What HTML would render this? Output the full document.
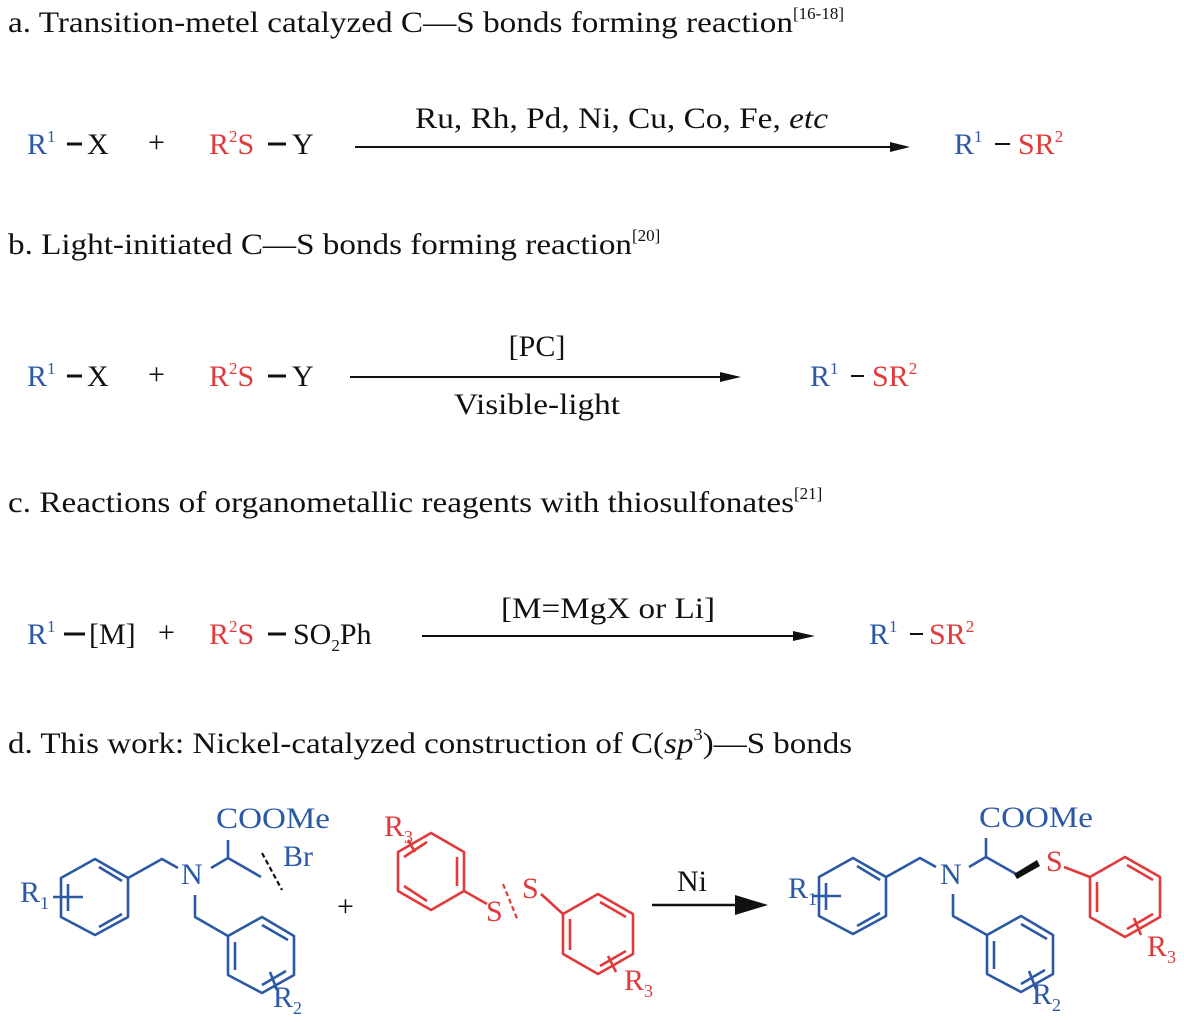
<!DOCTYPE html>
<html><head><meta charset="utf-8"><style>
html,body{margin:0;padding:0;background:#fff;width:1184px;height:1022px;overflow:hidden}
svg{display:block}
text{font-family:"Liberation Serif",serif}
</style></head><body>
<svg width="1184" height="1022" viewBox="0 0 1184 1022" xmlns="http://www.w3.org/2000/svg">
<g font-size="30" fill="#111">
<text x="8" y="32"><tspan textLength="785" lengthAdjust="spacingAndGlyphs">a. Transition-metel catalyzed C—S bonds forming reaction</tspan><tspan font-size="17" dy="-13">[16-18]</tspan></text>
<text x="8" y="254"><tspan textLength="624" lengthAdjust="spacingAndGlyphs">b. Light-initiated C—S bonds forming reaction</tspan><tspan font-size="17" dy="-13">[20]</tspan></text>
<text x="8" y="512"><tspan textLength="786" lengthAdjust="spacingAndGlyphs">c. Reactions of organometallic reagents with thiosulfonates</tspan><tspan font-size="17" dy="-13">[21]</tspan></text>
<text transform="translate(8,753) scale(1.1,1)" x="0" y="0">d. This work: Nickel-catalyzed construction of C(<tspan font-style="italic">sp</tspan><tspan font-size="17" dy="-13">3</tspan><tspan dy="13">)—S bonds</tspan></text>
</g>

<!-- row a -->
<g font-size="30">
<text x="27" y="154" fill="#2b59a5">R<tspan font-size="17" dy="-12">1</tspan></text>
<line x1="67" y1="144" x2="82" y2="144" stroke="#111" stroke-width="3"/>
<text x="87" y="154" fill="#111">X</text>
<text x="148" y="152" fill="#111">+</text>
<text x="209" y="154" fill="#e03a3a">R<tspan font-size="17" dy="-12">2</tspan><tspan dy="12">S</tspan></text>
<line x1="268" y1="144" x2="286" y2="144" stroke="#111" stroke-width="3"/>
<text x="292" y="154" fill="#111">Y</text>
<line x1="355" y1="147" x2="895" y2="147" stroke="#111" stroke-width="2"/>
<path d="M890,142 L910,147 L890,152 Z" fill="#111"/>
<text x="415" y="128" fill="#111" textLength="413" lengthAdjust="spacingAndGlyphs">Ru, Rh, Pd, Ni, Cu, Co, Fe, <tspan font-style="italic">etc</tspan></text>
<text x="954" y="154" fill="#2b59a5">R<tspan font-size="17" dy="-12">1</tspan></text>
<line x1="995" y1="144" x2="1010" y2="144" stroke="#111" stroke-width="2"/>
<text x="1018" y="154" fill="#e03a3a">SR<tspan font-size="17" dy="-12">2</tspan></text>
</g>

<!-- row b -->
<g font-size="30">
<text x="27" y="386" fill="#2b59a5">R<tspan font-size="17" dy="-12">1</tspan></text>
<line x1="67" y1="376" x2="82" y2="376" stroke="#111" stroke-width="3"/>
<text x="87" y="386" fill="#111">X</text>
<text x="148" y="384" fill="#111">+</text>
<text x="209" y="386" fill="#e03a3a">R<tspan font-size="17" dy="-12">2</tspan><tspan dy="12">S</tspan></text>
<line x1="268" y1="376" x2="286" y2="376" stroke="#111" stroke-width="3"/>
<text x="292" y="386" fill="#111">Y</text>
<line x1="350" y1="377" x2="725" y2="377" stroke="#111" stroke-width="2"/>
<path d="M720,372 L741,377 L720,382 Z" fill="#111"/>
<text x="537" y="356" fill="#111" text-anchor="middle">[PC]</text>
<text x="537" y="414" fill="#111" text-anchor="middle" textLength="166" lengthAdjust="spacingAndGlyphs">Visible-light</text>
<text x="810" y="386" fill="#2b59a5">R<tspan font-size="17" dy="-12">1</tspan></text>
<line x1="851" y1="376" x2="864" y2="376" stroke="#111" stroke-width="2"/>
<text x="872" y="386" fill="#e03a3a">SR<tspan font-size="17" dy="-12">2</tspan></text>
</g>

<!-- row c -->
<g font-size="30">
<text x="27" y="644" fill="#2b59a5">R<tspan font-size="17" dy="-12">1</tspan></text>
<line x1="64" y1="634" x2="85" y2="634" stroke="#111" stroke-width="3"/>
<text x="89" y="644" fill="#111">[M]</text>
<text x="158" y="642" fill="#111">+</text>
<text x="209" y="644" fill="#e03a3a">R<tspan font-size="17" dy="-12">2</tspan><tspan dy="12">S</tspan></text>
<line x1="268" y1="634" x2="286" y2="634" stroke="#111" stroke-width="3"/>
<text x="293" y="644" fill="#111">SO<tspan font-size="17" dy="7">2</tspan><tspan dy="-7">Ph</tspan></text>
<line x1="422" y1="636" x2="798" y2="636" stroke="#111" stroke-width="2"/>
<path d="M793,631 L815,636 L793,641 Z" fill="#111"/>
<text x="608" y="618" fill="#111" text-anchor="middle" textLength="214" lengthAdjust="spacingAndGlyphs">[M=MgX or Li]</text>
<text x="869" y="644" fill="#2b59a5">R<tspan font-size="17" dy="-12">1</tspan></text>
<line x1="910" y1="634" x2="923" y2="634" stroke="#111" stroke-width="2"/>
<text x="929" y="644" fill="#e03a3a">SR<tspan font-size="17" dy="-12">2</tspan></text>
</g>

<!-- row d: reactant 1 -->
<g stroke="#2b59a5" stroke-width="2.6" fill="none" stroke-linejoin="round">
<polygon points="95,859 128,878 128,917 95,935 61,917 61,878"/>
<line x1="99" y1="867" x2="122" y2="881"/>
<line x1="122" y1="914" x2="99" y2="927"/>
<line x1="68" y1="884" x2="68" y2="911"/>
<line x1="53" y1="897" x2="83" y2="897"/>
<polyline points="128,878 162,859 178,868"/>
<polyline points="211,868 228,858 261,877"/>
<line x1="228" y1="858" x2="228" y2="840"/>
<polyline points="195,895 195,917 228,936"/>
<polygon points="228,936 262,917 294,936 294,975 262,993 228,975"/>
<line x1="262" y1="925" x2="288" y2="940"/>
<line x1="235" y1="942" x2="235" y2="970"/>
<line x1="262" y1="985" x2="286" y2="971"/>
<line x1="270" y1="972" x2="277" y2="990"/>
</g>
<line x1="262" y1="853" x2="282" y2="890" stroke="#111" stroke-width="2.2" stroke-dasharray="5,3"/>
<g font-size="30" fill="#2b59a5">
<text x="20" y="902">R<tspan font-size="18" dy="7">1</tspan></text>
<text x="181" y="884">N</text>
<text x="216" y="828" textLength="114" lengthAdjust="spacingAndGlyphs">COOMe</text>
<text x="283" y="866">Br</text>
<text x="273" y="1007">R<tspan font-size="18" dy="7">2</tspan></text>
</g>
<text x="337" y="916" font-size="30" fill="#111">+</text>

<!-- reactant 2 disulfide -->
<g stroke="#e03a3a" stroke-width="2.6" fill="none" stroke-linejoin="round">
<polygon points="431,833 464,852 464,891 431,910 398,891 398,852"/>
<line x1="404" y1="857" x2="427" y2="842"/>
<line x1="457" y1="857" x2="457" y2="886"/>
<line x1="404" y1="886" x2="427" y2="901"/>
<line x1="408" y1="840" x2="415" y2="852"/>
<line x1="464" y1="891" x2="487" y2="904"/>
<line x1="541" y1="894" x2="563" y2="914"/>
<polygon points="563,914 598,894 633,914 633,954 598,974 563,954"/>
<line x1="600" y1="902" x2="626" y2="917"/>
<line x1="570" y1="919" x2="570" y2="950"/>
<line x1="600" y1="966" x2="626" y2="951"/>
<line x1="608" y1="956" x2="616" y2="972"/>
</g>
<line x1="503" y1="884" x2="518" y2="921" stroke="#e03a3a" stroke-width="2.2" stroke-dasharray="5,3"/>
<g font-size="30" fill="#e03a3a">
<text x="384" y="836">R<tspan font-size="18" dy="7">3</tspan></text>
<text x="486" y="921">S</text>
<text x="522" y="898">S</text>
<text x="624" y="990">R<tspan font-size="18" dy="7">3</tspan></text>
</g>

<!-- arrow d -->
<line x1="652" y1="905" x2="740" y2="905" stroke="#111" stroke-width="2.5"/>
<path d="M735,895 L768,905 L735,915 Z" fill="#111"/>
<text x="677" y="891" font-size="30" fill="#111">Ni</text>

<!-- product -->
<g stroke="#2b59a5" stroke-width="2.6" fill="none" stroke-linejoin="round">
<polygon points="853,858 886,877 886,916 853,934 819,916 819,877"/>
<line x1="857" y1="866" x2="880" y2="880"/>
<line x1="880" y1="913" x2="857" y2="926"/>
<line x1="826" y1="883" x2="826" y2="910"/>
<line x1="812" y1="896" x2="841" y2="896"/>
<polyline points="886,877 920,858 936,867"/>
<polyline points="969,867 986,857 1016,874"/>
<line x1="986" y1="857" x2="986" y2="838"/>
<polyline points="953,894 953,916 987,935"/>
<polygon points="987,935 1021,916 1053,935 1053,974 1021,992 987,974"/>
<line x1="1021" y1="924" x2="1047" y2="939"/>
<line x1="994" y1="941" x2="994" y2="969"/>
<line x1="1021" y1="984" x2="1045" y2="970"/>
<line x1="1029" y1="971" x2="1036" y2="989"/>
</g>
<path d="M1014,874 L1037,860 L1040,866 L1017,879 Z" fill="#111"/>
<g stroke="#e03a3a" stroke-width="2.6" fill="none" stroke-linejoin="round">
<line x1="1064" y1="867" x2="1090" y2="877"/>
<polygon points="1090,877 1125,857 1160,877 1160,917 1125,937 1090,917"/>
<line x1="1127" y1="865" x2="1153" y2="880"/>
<line x1="1097" y1="882" x2="1097" y2="912"/>
<line x1="1127" y1="929" x2="1153" y2="914"/>
<line x1="1134" y1="918" x2="1141" y2="935"/>
</g>
<g font-size="30" fill="#2b59a5">
<text x="788" y="898">R<tspan font-size="18" dy="7">1</tspan></text>
<text x="940" y="884">N</text>
<text x="979" y="827" textLength="114" lengthAdjust="spacingAndGlyphs">COOMe</text>
<text x="1032" y="1004">R<tspan font-size="18" dy="7">2</tspan></text>
</g>
<g font-size="30" fill="#e03a3a">
<text x="1046" y="871">S</text>
<text x="1147" y="956">R<tspan font-size="18" dy="7">3</tspan></text>
</g>
</svg>
</body></html>
